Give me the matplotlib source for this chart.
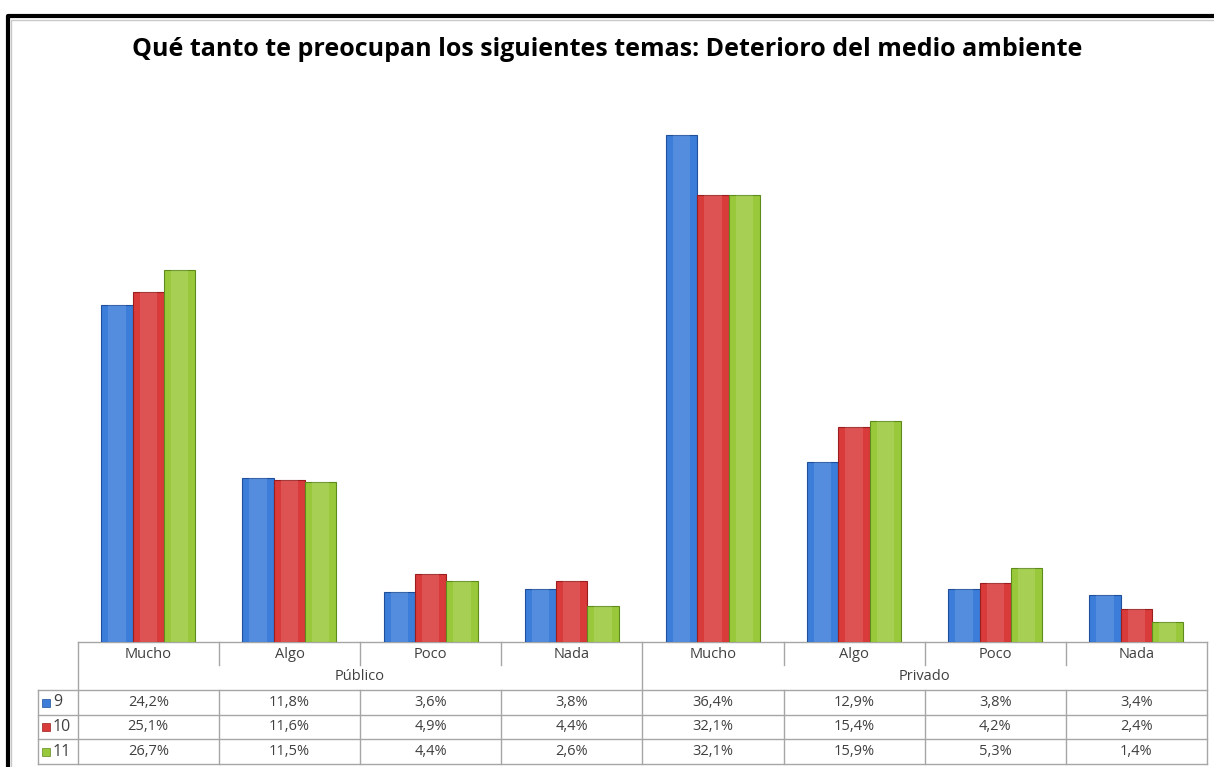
import numpy as np
import matplotlib.pyplot as plt
from matplotlib.patches import Rectangle

# 数据
grupos = ["Público", "Privado"]
categorias = ["Mucho", "Algo", "Poco", "Nada"]
series = ["9", "10", "11"]
valores_9 = [24.2, 11.8, 3.6, 3.8, 36.4, 12.9, 3.8, 3.4]
valores_10 = [25.1, 11.6, 4.9, 4.4, 32.1, 15.4, 4.2, 2.4]
valores_11 = [26.7, 11.5, 4.4, 2.6, 32.1, 15.9, 5.3, 1.4]
colores = ["#3b7dd8", "#d93a3a", "#99c93a"]
bordes = ["#1f4f9a", "#9a1e1e", "#5f8a1c"]

W, H = 1214, 767
fig = plt.figure(figsize=(W / 100, H / 100), dpi=100)
plt.rcParams['font.family'] = ['Open Sans', 'DejaVu Sans']

# 表格几何 (像素)
x0, x1 = 77.7, 1207
y_top = 642
y_rows = [690, 715, 739, 764]
col_w = (x1 - x0) / 8

# 柱状图
ax = fig.add_axes([x0 / W, (H - y_top) / H, (x1 - x0) / W, (y_top - 100) / H])
ax.set_xlim(-0.5, 7.5)
ax.set_ylim(0, (y_top - 100) / 13.93)
x = np.arange(8)
w = 0.222
todos = [valores_9, valores_10, valores_11]
for i, vals in enumerate(todos):
    pos = x + (i - 1) * w
    ax.bar(pos, vals, width=w, color=colores[i], edgecolor=bordes[i], linewidth=0.8, zorder=3)
    # 高光, 模拟立体效果
    ax.bar(pos, vals, width=w * 0.55, color="white", alpha=0.13, linewidth=0, zorder=4)
ax.axis("off")

# 覆盖层 (像素坐标)
ov = fig.add_axes([0, 0, 1, 1])
ov.set_xlim(0, W)
ov.set_ylim(H, 0)
ov.axis("off")
ov.set_zorder(-1)

lc = "#a6a6a6"
# 边框
ov.plot([7.5, 7.5, W], [H, 15.5, 15.5], color="black", lw=3)
ov.plot([10.5, 10.5, W], [H, 20, 20], color="#c8c8c8", lw=1)

# 标题
fig.text(0.5, 1 - 50 / H, "Qué tanto te preocupan los siguientes temas: Deterioro del medio ambiente",
         ha="center", va="center", fontsize=18, fontweight="bold", color="black")

# 表格线
ov.plot([x0, x1], [y_top, y_top], color=lc, lw=1)
for y in y_rows:
    ov.plot([37.7, x1], [y, y], color=lc, lw=1)
ov.plot([x0, x0], [y_top, y_rows[-1]], color=lc, lw=1)
ov.plot([x1, x1], [y_top, y_rows[-1]], color=lc, lw=1)
ov.plot([37.7, 37.7], [y_rows[0], y_rows[-1]], color=lc, lw=1)
for k in range(1, 8):
    xx = x0 + k * col_w
    if k == 4:
        ov.plot([xx, xx], [y_top, y_rows[-1]], color=lc, lw=1)
    else:
        ov.plot([xx, xx], [y_top, 665], color=lc, lw=1)
        ov.plot([xx, xx], [y_rows[0], y_rows[-1]], color=lc, lw=1)

tc = "#404040"
fs = 10.5
for k in range(8):
    cx = x0 + (k + 0.5) * col_w
    ov.text(cx, 655, categorias[k % 4], ha="center", va="center", fontsize=fs, color=tc)
    for r, vals in enumerate(todos):
        cy = (y_rows[r] + y_rows[r + 1]) / 2
        ov.text(cx, cy, f"{vals[k]:.1f}%".replace(".", ","), ha="center", va="center",
                fontsize=fs, color=tc)
for g, nombre in enumerate(grupos):
    cx = x0 + (g * 4 + 2) * col_w
    ov.text(cx, 677, nombre, ha="center", va="center", fontsize=fs, color=tc)

for r, s in enumerate(series):
    cy = (y_rows[r] + y_rows[r + 1]) / 2
    ov.add_patch(Rectangle((42, cy - 4), 8, 8, facecolor=colores[r], edgecolor=bordes[r], lw=0.5))
    ov.text(53, cy, s, ha="left", va="center", fontsize=fs + 1, color=tc)

fig.savefig("out.png", dpi=100)
